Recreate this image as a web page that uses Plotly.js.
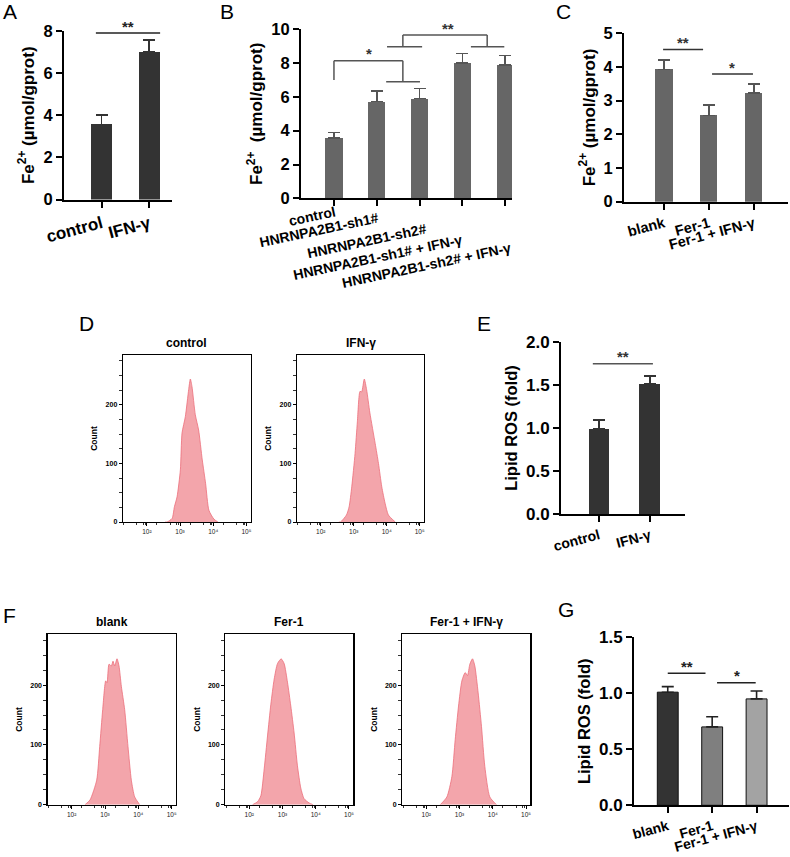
<!DOCTYPE html>
<html><head><meta charset="utf-8">
<script src="https://cdn.plot.ly/plotly-3.0.1.min.js"></script>
<style>html,body{margin:0;padding:0;background:#fff}#chart{width:790px;height:857px}</style>
</head><body><div id="chart"></div>
<script>
// ---------------- DATA ----------------
// Panel A: Fe2+ (µmol/gprot)
const aCats = ['control', 'IFN-γ'];
const aVals = [3.57, 7.02];
const aErr  = [0.45, 0.55];
// Panel B
const bCats = ['control', 'HNRNPA2B1-sh1#', 'HNRNPA2B1-sh2#', 'HNRNPA2B1-sh1# + IFN-γ', 'HNRNPA2B1-sh2# + IFN-γ'];
const bVals = [3.58, 5.72, 5.9, 7.99, 7.89];
const bErr  = [0.32, 0.63, 0.6, 0.57, 0.56];
// Panel C
const cCats = ['blank', 'Fer-1', 'Fer-1 + IFN-γ'];
const cVals = [3.93, 2.56, 3.22];
const cErr  = [0.28, 0.32, 0.27];
// Panel E: Lipid ROS (fold)
const eCats = ['control', 'IFN-γ'];
const eVals = [0.99, 1.51];
const eErr  = [0.10, 0.09];
// Panel G
const gCats = ['blank', 'Fer-1', 'Fer-1 + IFN-γ'];
const gVals = [1.01, 0.70, 0.95];
const gErr  = [0.05, 0.09, 0.07];

// Flow histograms: x = log10 fluorescence, y = count
const dCtrlLog   = [2.55, 2.61, 2.76, 2.83, 2.91, 3.01, 3.06, 3.16, 3.26, 3.31, 3.36, 3.46, 3.56, 3.67, 3.77, 3.87, 4.02, 4.14];
const dCtrlCount = [0, 0, 6, 26, 43, 89, 152, 180, 226, 244, 231, 183, 157, 106, 66, 20, 5, 0];
const dIfnLog    = [2.55, 2.60, 2.78, 2.86, 2.94, 3.04, 3.11, 3.19, 3.24, 3.32, 3.39, 3.49, 3.65, 3.75, 3.85, 3.95, 4.05, 4.26];
const dIfnCount  = [0, 0, 12, 26, 60, 117, 171, 223, 222, 244, 226, 186, 134, 100, 60, 32, 12, 0];
const fBlankLog   = [2.40, 2.55, 2.75, 2.84, 2.93, 3.02, 3.06, 3.12, 3.19, 3.24, 3.29, 3.36, 3.42, 3.49, 3.59, 3.69, 3.79, 3.89, 4.04];
const fBlankCount = [0, 8, 41, 97, 159, 207, 204, 235, 232, 240, 232, 244, 232, 198, 159, 97, 41, 13, 0];
const fFerLog     = [2.10, 2.25, 2.35, 2.45, 2.55, 2.65, 2.75, 2.85, 2.96, 3.05, 3.15, 3.25, 3.35, 3.45, 3.55, 3.65, 3.80, 3.92];
const fFerCount   = [0, 5, 15, 60, 115, 168, 210, 236, 244, 236, 205, 165, 120, 65, 28, 10, 3, 0];
const fFerIfnLog   = [2.42, 2.62, 2.77, 2.87, 2.97, 3.07, 3.17, 3.24, 3.31, 3.39, 3.46, 3.56, 3.66, 3.76, 3.91, 4.11];
const fFerIfnCount = [0, 13, 47, 109, 165, 207, 221, 216, 235, 244, 232, 187, 131, 64, 13, 0];

const flowTickVals = [2, 3, 4, 5];
const flowTickText = ['10²', '10³', '10⁴', '10⁵'];

// ---------------- HELPERS ----------------
const W = 790, H = 857;
const FONT = 'Liberation Sans, Arial, sans-serif';
const fx = px => px / W;
const fy = py => 1 - py / H;

const traces = [];
const layout = {
  width: W, height: H, margin: {l: 0, r: 0, t: 0, b: 0},
  paper_bgcolor: '#fff', plot_bgcolor: 'rgba(0,0,0,0)',
  showlegend: false, font: {family: FONT, color: '#000'},
  shapes: [], annotations: [], bargap: 0
};

function barPanel(n, cats, vals, errs, colors, opts) {
  const xa = n === 1 ? 'x' : 'x' + n, ya = n === 1 ? 'y' : 'y' + n;
  traces.push({
    type: 'bar', x: cats, y: vals, xaxis: xa, yaxis: ya, width: opts.barW,
    marker: {color: colors, line: {color: opts.outline || colors, width: opts.outline ? 1 : 0}},
    error_y: {type: 'data', symmetric: false, array: errs, arrayminus: vals.map(() => 0),
              color: opts.errColor, thickness: 1.6, width: 6},
    hoverinfo: 'skip'
  });
  layout['xaxis' + (n === 1 ? '' : n)] = {
    domain: [fx(opts.xd[0]), fx(opts.xd[1])], anchor: ya, type: 'category',
    range: opts.xr, showline: true, linewidth: 2, linecolor: '#000',
    ticks: 'outside', ticklen: 6, tickwidth: 2, tickcolor: '#000',
    showticklabels: !opts.customLabels,
    tickangle: opts.angle, tickfont: {family: FONT, size: opts.xfs, weight: 'bold'},
    showgrid: false, zeroline: false, fixedrange: true
  };
  layout['yaxis' + (n === 1 ? '' : n)] = {
    domain: [fy(opts.yd[0]), fy(opts.yd[1])], anchor: xa,
    range: opts.yr, dtick: opts.dtick, tickformat: opts.fmt,
    showline: true, linewidth: 2, linecolor: '#000',
    ticks: 'outside', ticklen: 6, tickwidth: 2, tickcolor: '#000',
    tickfont: {family: FONT, size: opts.yfs, weight: 'bold'},
    title: {text: opts.title, font: {family: FONT, size: opts.tfs, weight: 'bold'}, standoff: opts.standoff},
    showgrid: false, zeroline: false, fixedrange: true
  };
}

function seg(n, x0, y0, x1, y1, color) {
  const xa = n === 1 ? 'x' : 'x' + n, ya = n === 1 ? 'y' : 'y' + n;
  layout.shapes.push({type: 'line', xref: xa, yref: ya, x0, y0, x1, y1,
    line: {color: color, width: 1.5}});
}
function star(n, x, y, text, color) {
  const xa = n === 1 ? 'x' : 'x' + n, ya = n === 1 ? 'y' : 'y' + n;
  layout.annotations.push({xref: xa, yref: ya, x, y, text, showarrow: false,
    yanchor: 'middle', yshift: 7, font: {family: FONT, size: 15, weight: 'bold', color: color}});
}

function flowPanel(n, logs, counts, xd, yd, title) {
  const xa = 'x' + n, ya = 'y' + n;
  traces.push({
    type: 'scatter', mode: 'lines', x: logs, y: counts, xaxis: xa, yaxis: ya,
    fill: 'tozeroy', fillcolor: 'rgba(242,160,167,0.95)',
    line: {color: '#ec6f7b', width: 0.8, shape: 'spline', smoothing: 0.6}, hoverinfo: 'skip'
  });
  const minorX = [];
  [1, 2, 3, 4].forEach(d => [2, 3, 4, 5, 6, 7, 8, 9].forEach(k => {
    const v = d + Math.log10(k); if (v > 1.3 && v < 5.12 && (k === 2 || k === 5 || k >= 8)) minorX.push(v);
  }));
  layout['xaxis' + n] = {
    domain: [fx(xd[0]), fx(xd[1])], anchor: ya, range: [1.28, 5.13],
    showline: true, mirror: true, linewidth: 1.3, linecolor: '#000',
    tickvals: flowTickVals, ticktext: flowTickText, ticks: 'outside', ticklen: 3, tickwidth: 1, tickcolor: '#000',
    tickfont: {family: FONT, size: 6.5, color: '#222'},
    minor: {tickvals: minorX, ticklen: 2, tickwidth: 0.8, tickcolor: '#000', ticks: 'outside'},
    showgrid: false, zeroline: false, fixedrange: true
  };
  layout['yaxis' + n] = {
    domain: [fy(yd[0]), fy(yd[1])], anchor: xa, range: [0, 285],
    showline: true, mirror: true, linewidth: 1.3, linecolor: '#000',
    tickvals: [0, 100, 200], ticks: 'outside', ticklen: 3, tickwidth: 1, tickcolor: '#000',
    tickfont: {family: FONT, size: 7, weight: 'bold', color: '#000'},
    minor: {dtick: 25, ticklen: 3, tickwidth: 0.8, tickcolor: '#000', ticks: 'outside'},
    title: {text: 'Count', font: {family: FONT, size: 8.5, weight: 'bold'}, standoff: 6},
    showgrid: false, zeroline: false, fixedrange: true
  };
  layout.annotations.push({xref: 'paper', yref: 'paper', x: fx((xd[0] + xd[1]) / 2), y: fy(yd[1] - 3),
    xanchor: 'center', yanchor: 'bottom', showarrow: false, text: title,
    font: {family: FONT, size: 12, weight: 'bold'}});
}

// ---------------- PANELS ----------------
const feTitle = 'Fe<sup>2+</sup> (µmol/gprot)';
barPanel(1, aCats, aVals, aErr, ['#333333', '#333333'],
  {xd: [64, 172], yd: [199.5, 31], xr: [-0.79, 1.48], yr: [0, 8], dtick: 2, barW: 0.44,
   angle: -15, xfs: 17, yfs: 16.5, tfs: 17, errColor: '#333333', title: feTitle, standoff: 5});
barPanel(2, bCats, bVals, bErr, bCats.map(() => '#666666'),
  {xd: [301, 512], yd: [198.3, 29.3], xr: [-0.77, 4.16], yr: [0, 10], dtick: 2, barW: 0.4,
   angle: -12, xfs: 14, yfs: 16.5, tfs: 17, errColor: '#555555', title: 'Fe<sup>2+</sup>  (µmol/gprot)', standoff: 4,
   customLabels: true});
barPanel(3, cCats, cVals, cErr, cCats.map(() => '#666666'),
  {xd: [624, 788], yd: [201.7, 33.3], xr: [-0.89, 2.76], yr: [0, 5], dtick: 1, barW: 0.38,
   angle: -15, xfs: 14.5, yfs: 16.5, tfs: 17, errColor: '#555555', title: feTitle, standoff: 4});
barPanel(4, eCats, eVals, eErr, ['#333333', '#333333'],
  {xd: [561, 685], yd: [514.3, 341.7], xr: [-0.745, 1.69], yr: [0, 2], dtick: 0.5, fmt: '.1f', barW: 0.41,
   angle: -15, xfs: 14, yfs: 17, tfs: 16.5, errColor: '#333333', title: 'Lipid ROS (fold)', standoff: 4});
barPanel(5, gCats, gVals, gErr, ['#333333', '#7f7f7f', '#a3a3a3'],
  {xd: [634, 789], yd: [805.3, 637.3], xr: [-0.76, 2.73], yr: [0, 1.5], dtick: 0.5, fmt: '.1f', barW: 0.47,
   angle: -15, xfs: 14, yfs: 17, tfs: 16.5, errColor: '#222222', outline: '#111111', title: 'Lipid ROS (fold)', standoff: 4});

// Panel B category labels: one overlaid axis per label so each can be staggered
const bStandoff = [3, 9, 20, 31, 39];
const bShift = [1, 1, 6, -1, 5];
bCats.forEach((c, i) => {
  const id = 11 + i;
  traces.push({type: 'scatter', mode: 'markers', x: [i], y: [bVals[i]], xaxis: 'x' + id, yaxis: 'y2',
    marker: {opacity: 0, size: 1}, hoverinfo: 'skip'});
  layout['xaxis' + id] = {
    overlaying: 'x2', anchor: 'y2', side: 'bottom', range: [-0.77, 4.16],
    tickvals: [i], ticktext: [c], ticks: '', showline: false, showgrid: false, zeroline: false,
    tickangle: -12, ticklabelstandoff: bStandoff[i], ticklabelshift: bShift[i],
    tickfont: {family: FONT, size: 14, weight: 'bold', color: '#000'}, fixedrange: true
  };
});

// significance marks
seg(1, -0.12, 7.9, 1.23, 7.9, '#222'); star(1, 0.55, 7.9, '**', '#222');
// B brackets
seg(2, 0, 8.14, 1.61, 8.14, '#555'); seg(2, 0, 8.14, 0, 7.0, '#555'); seg(2, 1.61, 8.14, 1.61, 6.9, '#555');
seg(2, 1.22, 6.9, 2.01, 6.9, '#555'); star(2, 0.82, 8.14, '*', '#333');
seg(2, 1.61, 9.66, 3.58, 9.66, '#555'); seg(2, 1.61, 9.66, 1.61, 8.97, '#555'); seg(2, 3.58, 9.66, 3.58, 8.97, '#555');
seg(2, 1.24, 8.97, 2.06, 8.97, '#555'); seg(2, 3.2, 8.97, 3.98, 8.97, '#555'); star(2, 2.67, 9.66, '**', '#333');
// C
seg(3, -0.02, 4.52, 0.87, 4.52, '#333'); star(3, 0.42, 4.52, '**', '#333');
seg(3, 1.07, 3.79, 1.98, 3.79, '#333'); star(3, 1.52, 3.79, '*', '#333');
// E
seg(4, -0.12, 1.745, 1.06, 1.745, '#555'); star(4, 0.47, 1.745, '**', '#333');
// G
seg(5, 0, 1.18, 0.85, 1.18, '#222'); star(5, 0.43, 1.18, '**', '#222');
seg(5, 1.11, 1.095, 1.98, 1.095, '#222'); star(5, 1.55, 1.095, '*', '#222');

// flow panels
flowPanel(6, dCtrlLog, dCtrlCount, [123, 250.7], [522, 355], 'control');
flowPanel(7, dIfnLog, dIfnCount, [297, 424], [522, 355], 'IFN-γ');
flowPanel(8, fBlankLog, fBlankCount, [47.7, 176], [804.7, 634.3], 'blank');
flowPanel(9, fFerLog, fFerCount, [225.3, 353.3], [804.7, 634.3], 'Fer-1');
flowPanel(10, fFerIfnLog, fFerIfnCount, [402.3, 530.4], [804.7, 634.3], 'Fer-1 + IFN-γ');

// panel letters
[['A', 10, 11], ['B', 227, 11], ['C', 563, 11], ['D', 86, 323], ['E', 484, 323], ['F', 9, 615], ['G', 566, 609]]
  .forEach(([t, x, y]) => layout.annotations.push({xref: 'paper', yref: 'paper', x: fx(x), y: fy(y),
    xanchor: 'center', yanchor: 'middle', showarrow: false, text: t,
    font: {family: FONT, size: 21, color: '#000'}}));

Plotly.newPlot('chart', traces, layout, {staticPlot: true, displayModeBar: false});
</script></body></html>
